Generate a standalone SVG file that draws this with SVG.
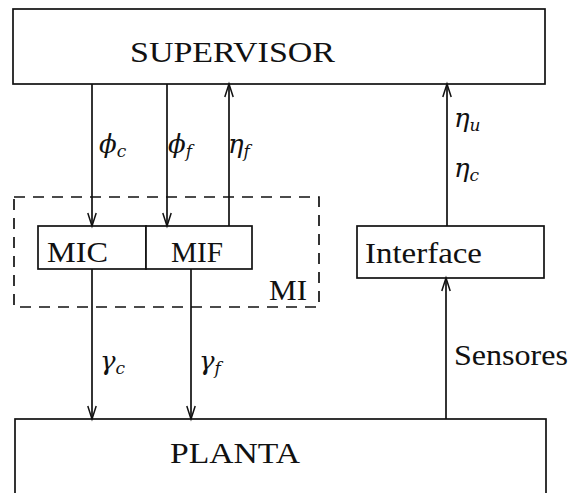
<svg xmlns="http://www.w3.org/2000/svg" width="571" height="493" viewBox="0 0 571 493">
<style>
.box{fill:#fff;stroke:#111;stroke-width:1.7}
.dash{fill:none;stroke:#111;stroke-width:1.7;stroke-dasharray:11 8}
.wire{fill:none;stroke:#111;stroke-width:1.7;marker-end:url(#ah)}
.t{font-family:"Liberation Serif","DejaVu Serif",serif;font-size:30px;fill:#111}
.g{font-family:"DejaVu Serif","Liberation Serif",serif;font-style:italic;font-size:26px;fill:#111}
.s{font-size:17px}
</style>
<defs>
<marker id="ah" markerWidth="14" markerHeight="16" refX="13" refY="5" orient="auto" markerUnits="userSpaceOnUse" viewBox="0 0 14 10" overflow="visible">
<path d="M0,0.8 L13,5 L0,9.2" fill="none" stroke="#111" stroke-width="1.5"/>
</marker>
</defs>
<g id="supervisor">
<rect class="box" x="13" y="9" width="532" height="75"/>
<text class="t" x="130" y="62" font-size="32" textLength="205" lengthAdjust="spacingAndGlyphs">SUPERVISOR</text>
</g>
<g id="mi">
<rect class="dash" x="14" y="197" width="305" height="110"/>
<text class="t" x="269" y="300" textLength="38" lengthAdjust="spacingAndGlyphs">MI</text>
</g>
<g id="mic">
<rect class="box" x="38" y="226" width="108" height="43"/>
<text class="t" x="47" y="262" textLength="61" lengthAdjust="spacingAndGlyphs">MIC</text>
</g>
<g id="mif">
<rect class="box" x="146" y="226" width="106" height="43"/>
<text class="t" x="171" y="262" textLength="52" lengthAdjust="spacingAndGlyphs">MIF</text>
</g>
<g id="interface">
<rect class="box" x="357" y="226" width="187" height="52"/>
<text class="t" x="365" y="263" textLength="117" lengthAdjust="spacingAndGlyphs">Interface</text>
</g>
<g id="planta">
<rect class="box" x="15" y="419" width="531" height="100"/>
<text class="t" x="170" y="463" textLength="130" lengthAdjust="spacingAndGlyphs">PLANTA</text>
</g>
<g id="connectors">
<line class="wire" x1="92" y1="84" x2="92" y2="226"/>
<line class="wire" x1="167" y1="84" x2="167" y2="226"/>
<line class="wire" x1="229" y1="226" x2="229" y2="84"/>
<line class="wire" x1="447" y1="226" x2="447" y2="84"/>
<line class="wire" x1="92" y1="269" x2="92" y2="419"/>
<line class="wire" x1="191" y1="269" x2="191" y2="419"/>
<line class="wire" x1="446" y1="419" x2="446" y2="278"/>
</g>
<g id="labels">
<text class="g" x="99" y="153">ϕ<tspan class="s" dy="4">c</tspan></text>
<text class="g" x="168" y="153">ϕ<tspan class="s" dy="4">f</tspan></text>
<text class="g" x="228" y="153">η<tspan class="s" dy="4">f</tspan></text>
<text class="g" x="454" y="127">η<tspan class="s" dy="4">u</tspan></text>
<text class="g" x="454" y="177">η<tspan class="s" dy="4">c</tspan></text>
<text class="g" x="100" y="370">γ<tspan class="s" dy="4">c</tspan></text>
<text class="g" x="199" y="370">γ<tspan class="s" dy="4">f</tspan></text>
<text class="t" x="454" y="365" textLength="114" lengthAdjust="spacingAndGlyphs">Sensores</text>
</g>
</svg>
